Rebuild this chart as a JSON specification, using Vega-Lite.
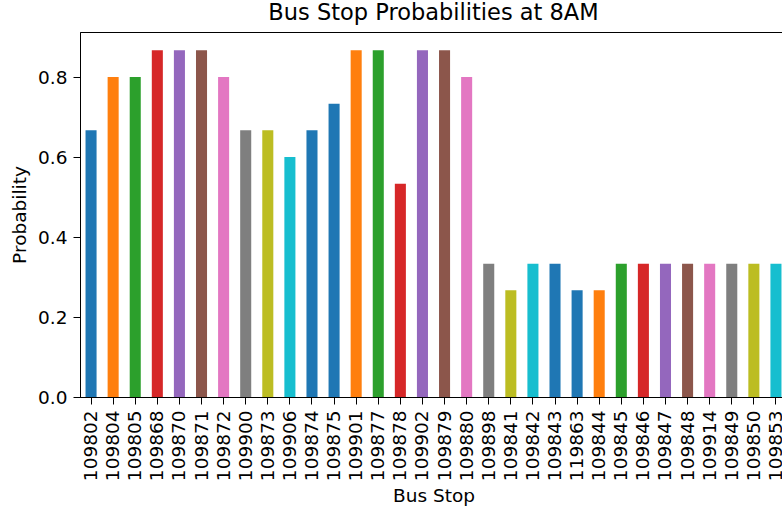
{
  "$schema": "https://vega.github.io/schema/vega-lite/v6.json",
  "autosize": {"type": "none"},
  "padding": {"left": 80, "top": 32, "right": 0, "bottom": 117},
  "width": 707,
  "height": 365,
  "background": "white",
  "title": {"text": "Bus Stop Probabilities at 8AM", "font": "DejaVu Sans", "fontSize": 22.5, "fontWeight": "normal", "color": "black", "offset": 8, "anchor": "middle"},
  "config": {
    "view": {"stroke": "black", "strokeWidth": 1},
    "axis": {"labelFont": "DejaVu Sans", "titleFont": "DejaVu Sans", "labelFontSize": 18.5, "titleFontSize": 18.5, "titleFontWeight": "normal", "labelColor": "black", "titleColor": "black", "tickColor": "black", "domainColor": "black", "tickSize": 7, "grid": false}
  },
  "data": {"values": [
    {"stop": "109802", "p": 0.6667},
    {"stop": "109804", "p": 0.8},
    {"stop": "109805", "p": 0.8},
    {"stop": "109868", "p": 0.8667},
    {"stop": "109870", "p": 0.8667},
    {"stop": "109871", "p": 0.8667},
    {"stop": "109872", "p": 0.8},
    {"stop": "109900", "p": 0.6667},
    {"stop": "109873", "p": 0.6667},
    {"stop": "109906", "p": 0.6},
    {"stop": "109874", "p": 0.6667},
    {"stop": "109875", "p": 0.7333},
    {"stop": "109901", "p": 0.8667},
    {"stop": "109877", "p": 0.8667},
    {"stop": "109878", "p": 0.5333},
    {"stop": "109902", "p": 0.8667},
    {"stop": "109879", "p": 0.8667},
    {"stop": "109880", "p": 0.8},
    {"stop": "109898", "p": 0.3333},
    {"stop": "109841", "p": 0.2667},
    {"stop": "109842", "p": 0.3333},
    {"stop": "109843", "p": 0.3333},
    {"stop": "119863", "p": 0.2667},
    {"stop": "109844", "p": 0.2667},
    {"stop": "109845", "p": 0.3333},
    {"stop": "109846", "p": 0.3333},
    {"stop": "109847", "p": 0.3333},
    {"stop": "109848", "p": 0.3333},
    {"stop": "109914", "p": 0.3333},
    {"stop": "109849", "p": 0.3333},
    {"stop": "109850", "p": 0.3333},
    {"stop": "109853", "p": 0.3333}
  ]},
  "mark": {"type": "bar"},
  "encoding": {
    "x": {"field": "stop", "type": "nominal", "sort": null, "title": "Bus Stop",
      "scale": {"paddingInner": 0.5, "paddingOuter": 0.25},
      "axis": {"labelAngle": -90, "labelPadding": 6, "titlePadding": 6}},
    "y": {"field": "p", "type": "quantitative", "title": "Probability",
      "scale": {"domain": [0, 0.9125], "nice": false, "zero": true},
      "axis": {"values": [0, 0.2, 0.4, 0.6, 0.8], "format": ".1f", "labelPadding": 6, "titlePadding": 8}},
    "color": {"field": "stop", "type": "nominal", "sort": null, "legend": null,
      "scale": {"range": ["#1f77b4","#ff7f0e","#2ca02c","#d62728","#9467bd","#8c564b","#e377c2","#7f7f7f","#bcbd22","#17becf",
                          "#1f77b4","#1f77b4","#ff7f0e","#2ca02c","#d62728","#9467bd","#8c564b","#e377c2","#7f7f7f","#bcbd22","#17becf",
                          "#1f77b4","#1f77b4","#ff7f0e","#2ca02c","#d62728","#9467bd","#8c564b","#e377c2","#7f7f7f","#bcbd22","#17becf"]}}
  }
}
